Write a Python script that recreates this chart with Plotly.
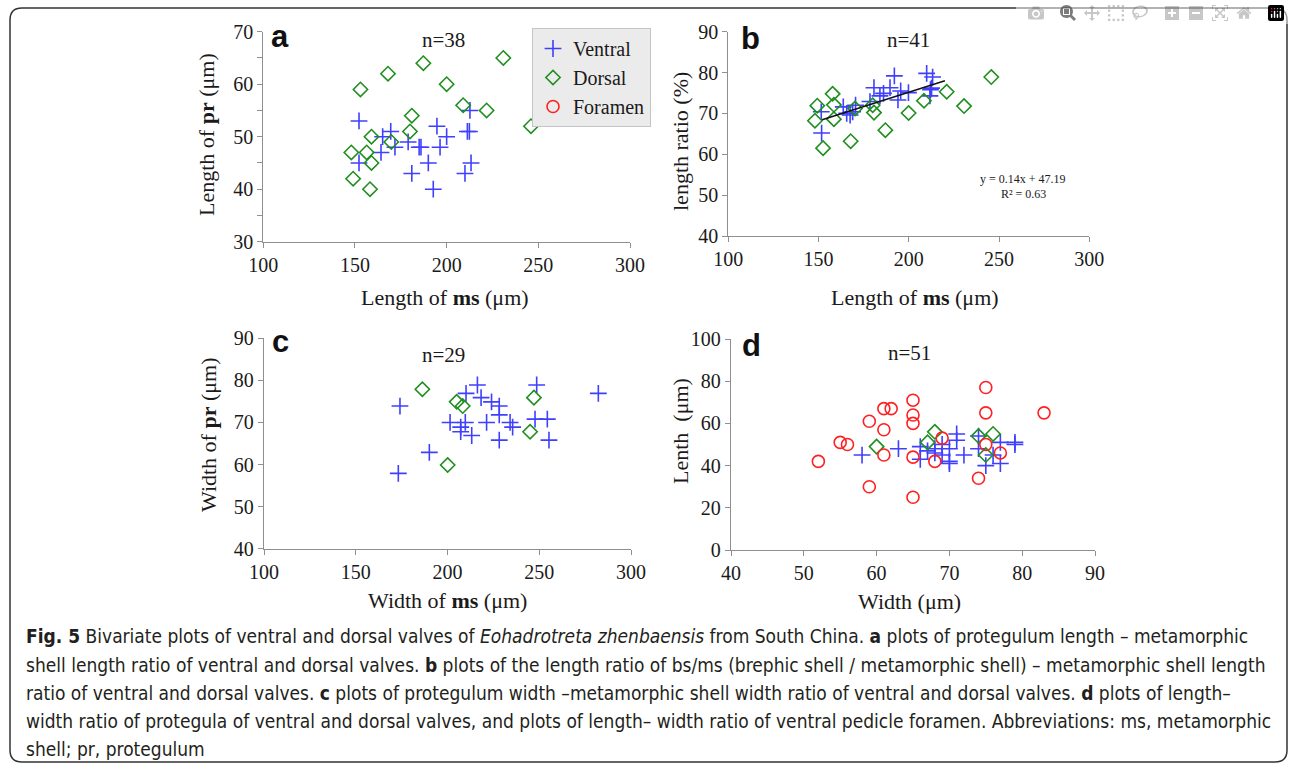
import plotly.graph_objects as go

W, H = 1290, 766

# ---------------- data ----------------
# panel a: length of ms vs length of pr
a_ventral_x = [152.2, 152.2, 165.1, 164.2, 169.5, 171.8, 179.0, 181.0, 185.0, 186.0,
               190.0, 194.7, 192.7, 196.4, 200.0, 210.0, 213.3, 212.7, 211.3, 212.4]
a_ventral_y = [53, 45, 50, 47, 51, 48, 49, 43, 48, 48,
               45, 52, 40, 48, 50, 43, 45, 55, 51, 51]
a_dorsal_x = [148, 149, 153, 156.4, 158.2, 159, 159, 168, 169.8, 180, 181,
              187.3, 200, 209, 221.8, 230.9, 246]
a_dorsal_y = [47, 42, 59, 47, 40, 50, 45, 62, 49, 51, 54,
              64, 60, 56, 55, 65, 52]

# panel b: length of ms vs length ratio (%)
b_ventral_x = [151.5, 151.7, 163.7, 165.6, 167.5, 168.9, 170.5, 178.5, 180.7, 184.0,
               186.0, 189.6, 192.0, 194.0, 195.5, 199.8, 209.9, 213.2, 212.6, 211.7, 212.0]
b_ventral_y = [70.4, 65.2, 71.6, 70.0, 69.6, 70.4, 72.0, 72.9, 76.3, 74.3,
               74.9, 76.3, 79.2, 73.3, 75.5, 75.1, 79.8, 78.9, 76.2, 74.3, 75.8]
b_dorsal_x = [148.0, 149.3, 152.5, 157.8, 158.5, 158.5, 167.8, 170.2, 180.0, 180.7,
              187.0, 199.9, 208.4, 221.0, 230.6, 245.7]
b_dorsal_y = [68.2, 71.9, 61.5, 74.8, 72.1, 68.6, 63.2, 71.2, 72.0, 70.2,
              65.9, 70.1, 73.1, 75.3, 71.8, 78.9]
trend_slope = 0.14
trend_intercept = 47.19
trend_x_range = [152, 220]

# panel c: width of ms vs width of pr
c_ventral_x = [174.1, 173.2, 190.1, 201.4, 207.2, 207.2, 209.7, 210.1, 213.2, 216.3,
               218.3, 221.3, 224.0, 228.2, 228.2, 228.2, 234.1, 235.5, 248.6, 247.7,
               254.4, 255.3, 282.2]
c_ventral_y = [73.9, 57.9, 62.9, 70.0, 68.9, 67.8, 70.0, 76.9, 66.9, 78.9,
               75.9, 70.0, 74.9, 73.9, 71.8, 65.8, 70.0, 68.9, 78.9, 70.8,
               70.8, 65.8, 76.9]
c_dorsal_x = [186.3, 200.1, 205.0, 208.3, 245.0, 247.1]
c_dorsal_y = [77.9, 59.9, 74.9, 73.9, 67.8, 75.9]

# panel d: width vs length of protegula / foramen
d_ventral_x = [58, 63, 66, 66, 67, 68, 69, 69, 70, 70, 70, 71,
               71, 72, 74, 74, 75, 76, 77, 77, 79, 79, 68]
d_ventral_y = [45, 48, 49, 43, 47, 48, 50, 45, 48, 42, 41, 55,
               52, 45, 54, 48, 40, 45, 51, 41, 51, 50, 46]
d_dorsal_x = [60, 67, 68, 74, 75, 76]
d_dorsal_y = [49, 51, 56, 54, 45, 55]
d_foramen_x = [52, 55, 56, 59, 59, 61, 61, 61, 62, 65, 65, 65, 65, 65,
               68, 69, 75, 75, 75, 74, 77, 83]
d_foramen_y = [42, 51, 50, 61, 30, 67, 57, 45, 67, 71, 64, 60, 44, 25,
               42, 53, 77, 65, 50, 34, 46, 65]

panel_letters = ["a", "b", "c", "d"]
panel_n = ["n=38", "n=41", "n=29", "n=51"]

# ---------------- styles ----------------
BLUE = "#3f3fff"
GREEN = "#1f8f1f"
RED = "#ff2020"
AXC = "#8f8f8f"
TXT = "#1a1a1a"
SERIF = "Liberation Serif, Times New Roman, serif"

def px_x(p):
    return p / W

def px_y(p):
    return 1 - p / H

# pixel boxes: (left, right, top, bottom)
boxes = {
    1: (263.3, 630.0, 31.7, 241.7),
    2: (728.3, 1089.3, 31.7, 236.0),
    3: (264.0, 631.0, 338.3, 548.7),
    4: (731.0, 1095.0, 339.0, 550.0),
}

fig = go.Figure()

def add_scatter(x, y, kind, k, show):
    if kind == "Ventral":
        m = dict(symbol="cross-thin", size=12, color=BLUE, line=dict(width=1.6, color=BLUE))
    elif kind == "Dorsal":
        m = dict(symbol="diamond-open", size=11, color=GREEN, line=dict(width=1.6, color=GREEN))
    else:
        m = dict(symbol="circle-open", size=12, color=RED, line=dict(width=1.6, color=RED))
    sfx = "" if k == 1 else str(k)
    fig.add_trace(go.Scatter(x=x, y=y, mode="markers", name=kind, marker=m,
                             legendgroup=kind, showlegend=show,
                             xaxis="x" + sfx, yaxis="y" + sfx))

add_scatter(a_ventral_x, a_ventral_y, "Ventral", 1, False)
add_scatter(a_dorsal_x, a_dorsal_y, "Dorsal", 1, False)
add_scatter(b_ventral_x, b_ventral_y, "Ventral", 2, False)
add_scatter(b_dorsal_x, b_dorsal_y, "Dorsal", 2, False)
trend_y = [trend_slope * v + trend_intercept for v in trend_x_range]
fig.add_trace(go.Scatter(x=trend_x_range, y=trend_y, mode="lines", showlegend=False,
                         line=dict(color="#111111", width=1.5), xaxis="x2", yaxis="y2"))
add_scatter(c_ventral_x, c_ventral_y, "Ventral", 3, False)
add_scatter(c_dorsal_x, c_dorsal_y, "Dorsal", 3, False)
add_scatter(d_ventral_x, d_ventral_y, "Ventral", 4, True)
add_scatter(d_dorsal_x, d_dorsal_y, "Dorsal", 4, True)
add_scatter(d_foramen_x, d_foramen_y, "Foramen", 4, True)

ranges = {
    1: ([100, 300], 50, [30, 70], 10),
    2: ([100, 300], 50, [40, 90], 10),
    3: ([100, 300], 50, [40, 90], 10),
    4: ([40, 90], 10, [0, 100], 20),
}

layout = {}
for k, (l, r, t, b) in boxes.items():
    sfx = "" if k == 1 else str(k)
    xr, xd, yr, yd = ranges[k]
    common = dict(showgrid=False, zeroline=False, showline=True, linecolor=AXC, linewidth=1.3,
                  ticks="outside", ticklen=5, tickcolor=AXC, tickwidth=1.3,
                  tickfont=dict(family=SERIF, size=20, color=TXT), mirror=False,
                  automargin=False)
    layout["xaxis" + sfx] = dict(domain=[px_x(l), px_x(r)], range=xr, dtick=xd, tick0=xr[0],
                                 anchor="y" + sfx, **common)
    ydict = dict(domain=[px_y(b), px_y(t)], range=yr, dtick=yd, tick0=yr[0],
                 anchor="x" + sfx, **common)
    if k == 1:
        ydict["minor"] = dict(dtick=5, ticks="outside", ticklen=5, tickcolor=AXC, tickwidth=1.3)
    layout["yaxis" + sfx] = ydict

fig.update_layout(**layout)

ann = []
def A(text, x, y, size, family=SERIF, angle=0, xanchor="center", yanchor="middle", color=TXT):
    ann.append(dict(text=text, x=px_x(x), y=px_y(y), xref="paper", yref="paper",
                    showarrow=False, textangle=angle, xanchor=xanchor, yanchor=yanchor,
                    font=dict(family=family, size=size, color=color)))

# axis titles
A("Length of <b>ms</b> (μm)", 445, 297, 22)
A("Length of <b>ms</b> (μm)", 915, 297, 22)
A("Width of <b>ms</b> (μm)", 447, 600, 22)
A("Width (μm)", 909, 601, 22)
A("Length of <b>pr</b> (μm)", 207, 135, 22, angle=-90)
A("length ratio (%)", 680, 142, 22, angle=-90)
A("Width of <b>pr</b> (μm)", 208, 435, 22, angle=-90)
A("Lenth  (μm)", 680, 431, 22, angle=-90)

# panel letters and n
letter_pos = [(280, 36), (750, 38), (280, 341), (751, 345)]
n_pos = [(443, 40), (908, 40), (443, 355), (909, 353)]
for i in range(4):
    A("<b>%s</b>" % panel_letters[i], letter_pos[i][0], letter_pos[i][1], 31,
      family="Liberation Sans, Arial, sans-serif", color="#111111")
    A(panel_n[i], n_pos[i][0], n_pos[i][1], 21)

# regression text
A("y = 0.14x + 47.19", 1023, 179, 12)
A("R² = 0.63", 1023, 194, 12)

# caption
cap_lines = [
    "<b>Fig. 5</b> Bivariate plots of ventral and dorsal valves of <i>Eohadrotreta zhenbaensis</i> from South China. <b>a</b> plots of protegulum length – metamorphic",
    "shell length ratio of ventral and dorsal valves. <b>b</b> plots of the length ratio of bs/ms (brephic shell / metamorphic shell) – metamorphic shell length",
    "ratio of ventral and dorsal valves. <b>c</b> plots of protegulum width –metamorphic shell width ratio of ventral and dorsal valves. <b>d</b> plots of length–",
    "width ratio of protegula of ventral and dorsal valves, and plots of length– width ratio of ventral pedicle foramen. Abbreviations: ms, metamorphic",
    "shell; pr, protegulum",
]
cap_y = [636, 665, 693, 721, 749]
for s, yy in zip(cap_lines, cap_y):
    A(s, 24, yy, 19, family="DejaVu Sans Condensed, DejaVu Sans, sans-serif",
      xanchor="left", color="#231f20")

# rounded border
L, R, T, B, rr = 10, 1287, 8, 762, 12
def P(x, y):
    return "%.5f,%.5f" % (px_x(x), px_y(y))
path = ("M " + P(L + rr, T) + " L " + P(R - rr, T) + " Q " + P(R, T) + " " + P(R, T + rr) +
        " L " + P(R, B - rr) + " Q " + P(R, B) + " " + P(R - rr, B) +
        " L " + P(L + rr, B) + " Q " + P(L, B) + " " + P(L, B - rr) +
        " L " + P(L, T + rr) + " Q " + P(L, T) + " " + P(L + rr, T) + " Z")

fig.update_layout(
    width=W, height=H, margin=dict(l=0, r=0, t=0, b=0, pad=0, autoexpand=False),
    paper_bgcolor="white", plot_bgcolor="white",
    annotations=ann,
    shapes=[dict(type="path", path=path, xref="paper", yref="paper",
                 line=dict(color="#333333", width=1.5), layer="below")],
    legend=dict(x=px_x(532), y=px_y(28), xanchor="left", yanchor="top",
                bgcolor="#ebebeb", bordercolor="#c4c4c4", borderwidth=1,
                font=dict(family=SERIF, size=20, color=TXT), tracegroupgap=0,
                itemwidth=30),
)

fig.write_html("out.html", post_script="document.body.style.margin='0';")
